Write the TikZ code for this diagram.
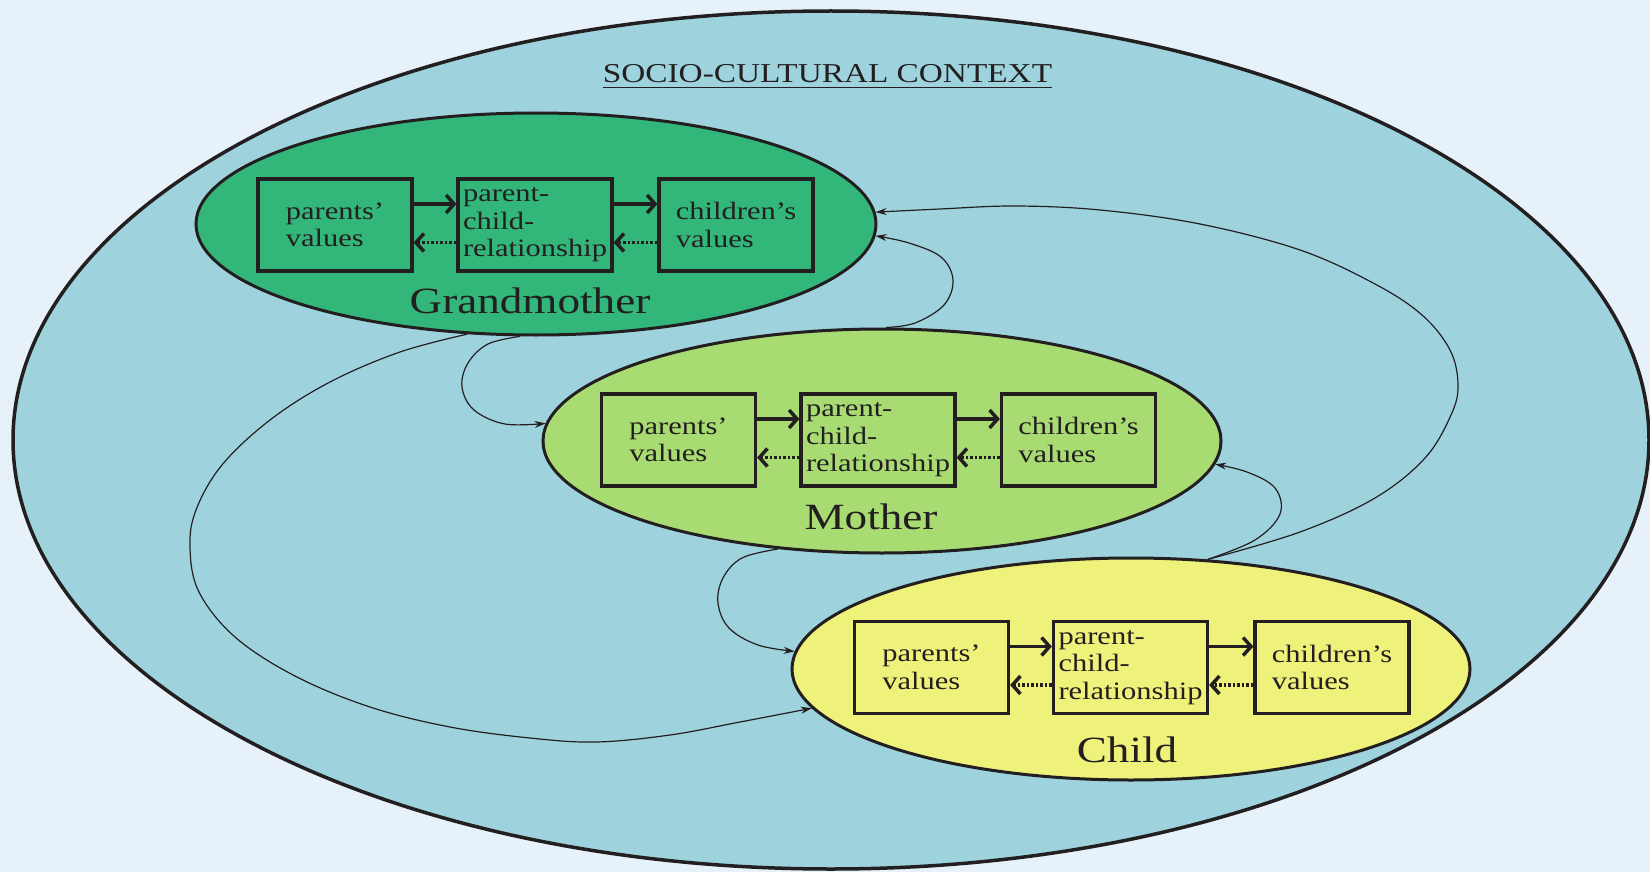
\documentclass[tikz,border=0pt]{standalone}
\usepackage{fontspec}
\setmainfont{Liberation Serif}
\newfontfamily\wideserif[FakeStretch=1.22,Ligatures=TeX]{Liberation Serif}
\usetikzlibrary{shapes.geometric,arrows.meta}
\definecolor{pagebg}{HTML}{E6F1FA}
\definecolor{ctxfill}{HTML}{9ED3DD}
\definecolor{gmfill}{HTML}{33B67A}
\definecolor{mofill}{HTML}{A8DC72}
\definecolor{chfill}{HTML}{EEF27A}
\definecolor{ink}{HTML}{231F20}
\begin{document}
\begin{tikzpicture}[x=1pt,y=-1pt,
  gen/.style={ellipse, draw=ink, line width=3pt, inner sep=0pt},
  vbox/.style={rectangle, draw=ink, line width=3.2pt, minimum width=154pt,
    minimum height=92pt, inner sep=0pt, align=left, text=ink,
    font=\wideserif\fontsize{25}{27.5}\selectfont},
  lbl/.style={anchor=base, inner sep=0pt, text=ink,
    font=\wideserif\fontsize{37}{40}\selectfont},
  ttlstyle/.style={anchor=base, inner sep=0pt, text=ink,
    font=\wideserif\fontsize{27.3}{30}\selectfont},
  fwd/.style={draw=ink, line width=3.5pt, -{Straight Barb[length=8pt,width=18pt]}},
  bwd/.style={draw=ink, line width=3.5pt, dash pattern=on 2.5pt off 2pt,
    -{Straight Barb[length=8pt,width=18pt]}},
  conn/.style={draw=ink, line width=1.2pt, -{Stealth[length=11pt,width=7pt]}}
]
\fill[pagebg] (0,0) rectangle (1650,872);
\path[use as bounding box] (0,0) rectangle (1650,872);

% context
\node[gen, fill=ctxfill, line width=3.5pt, minimum width=1636pt, minimum height=858pt] (ctx) at (831,440) {};
\node[ttlstyle] (ttl) at (827.5,83) {SOCIO-CULTURAL CONTEXT};
\draw[ink, line width=1.8pt] ([yshift=-4.5pt]ttl.base west) -- ([yshift=-4.5pt]ttl.base east);

% generations
\node[gen, fill=gmfill, minimum width=680pt, minimum height=222pt] (gm) at (536,224) {};
\node[gen, fill=mofill, minimum width=678pt, minimum height=224pt] (mo) at (882,441) {};
\node[gen, fill=chfill, minimum width=678pt, minimum height=222pt] (ch) at (1131,669) {};

% Grandmother boxes
\node[vbox] (g1) at (335,225) {parents’\\values};
\node[vbox] (g2) at (535,225) {parent-\\child-\\relationship};
\node[vbox] (g3) at (736,225) {children’s\\values};
\node[lbl] (gl) at (530,313) {Grandmother};

% Mother boxes
\node[vbox] (m1) at (678.5,440) {parents’\\values};
\node[vbox] (m2) at (878,440) {parent-\\child-\\relationship};
\node[vbox] (m3) at (1078.5,440) {children’s\\values};
\node[lbl] (ml) at (871,529) {Mother};

% Child boxes
\node[vbox] (c1) at (931.5,667.5) {parents’\\values};
\node[vbox] (c2) at (1130.5,667.5) {parent-\\child-\\relationship};
\node[vbox] (c3) at (1332,667.5) {children’s\\values};
\node[lbl] (cl) at (1127,762) {Child};

% within-generation arrows
\foreach \a/\b in {g1/g2,g2/g3,m1/m2,m2/m3,c1/c2,c2/c3}{
  \draw[fwd] ([yshift=21pt]\a.east) -- ([yshift=21pt]\b.west);
  \draw[bwd] ([yshift=-17.5pt]\b.west) -- ([yshift=-17.5pt]\a.east);
}

% between-generation connectors
\draw[conn] plot[smooth, tension=0.6] coordinates {(gm.262) (488,344) (468,363) (462,387) (474,410) (505,424) (mo.177)};
\draw[conn] plot[smooth, tension=0.6] coordinates {(gm.238) (400,352) (330,382) (270,420) (222,465) (196,510) (190,548) (199,592) (235,637) (295,676) (370,707) (450,727) (530,738) (596,742) (670,735) (740,722) (ch.187)};
\draw[conn] plot[smooth, tension=0.6] coordinates {(mo.226) (742,558) (723,578) (718,603) (729,628) (758,645) (ch.177)};
\draw[conn] plot[smooth, tension=0.6] coordinates {(mo.88) (915,323) (944,305) (953,280) (941,257) (909,243) (gm.358)};
\draw[conn] plot[smooth, tension=0.6] coordinates {(ch.55) (1255,540) (1280,514) (1275,488) (1247,472) (mo.356)};
\draw[conn] plot[smooth, tension=0.6] coordinates {(ch.55) (1300,532) (1375,498) (1425,458) (1451,415) (1458,385) (1450,350) (1422,315) (1375,284) (1300,250) (1200,224) (1100,210) (1015,206) (940,209) (gm.2)};
\end{tikzpicture}
\end{document}
